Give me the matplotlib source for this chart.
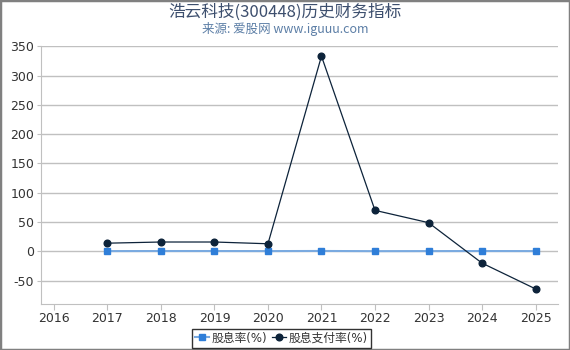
import matplotlib
matplotlib.use("Agg")
import matplotlib.pyplot as plt
from matplotlib.patches import Rectangle

plt.rcParams['font.family'] = ['DejaVu Sans', 'Noto Sans CJK SC']
plt.rcParams['axes.unicode_minus'] = False

years = [2017, 2018, 2019, 2020, 2021, 2022, 2023, 2024, 2025]
dividend_yield = [0.5, 0.6, 0.6, 0.5, 0.7, 0.4, 0.5, 0.6, 0.5]
payout_ratio = [14, 16, 16, 13, 333, 70, 49, -20, -64]
xticks = list(range(2016, 2026))
yticks = [-50, 0, 50, 100, 150, 200, 250, 300, 350]

fig = plt.figure(figsize=(5.7, 3.5), dpi=100)
ax = fig.add_axes([0.072, 0.131, 0.907, 0.737])

ax.plot(years, dividend_yield, color='#7aaae0', lw=1.5, marker='s', ms=4.8,
        mfc='#2f7ed8', mec='#2f7ed8', label='股息率(%)', zorder=3)
ax.plot(years, payout_ratio, color='#0d233a', lw=0.9, marker='o', ms=4.8,
        mfc='#0d233a', mec='#0d233a', label='股息支付率(%)', zorder=4)

ax.set_xlim(2015.76, 2025.42)
ax.set_ylim(-90, 350)
ax.set_xticks(xticks)
ax.set_xticklabels([str(x) for x in xticks])
ax.set_yticks(yticks)
ax.grid(axis='y', color='#c0c0c0', lw=1)
ax.set_axisbelow(True)
for s in ['top', 'right']:
    ax.spines[s].set_visible(False)
for s in ['left', 'bottom']:
    ax.spines[s].set_color('#c0c0c0')
ax.tick_params(axis='both', colors='#c0c0c0', labelcolor='#333333', labelsize=9, length=4, pad=2)
ax.tick_params(axis='y', length=3)

title_font = ['Noto Sans CJK SC', 'DejaVu Sans']
fig.text(0.5, 0.965, '浩云科技(300448)历史财务指标', ha='center', va='center',
         fontsize=12, color='#3d4f6e', family=title_font)
fig.text(0.5, 0.918, '来源: 爱股网 www.iguuu.com', ha='center', va='center',
         fontsize=9, color='#5c7ea6', family=title_font)

leg = fig.legend(loc='center', bbox_to_anchor=(0.494, 0.034), ncol=2, frameon=True,
                 fontsize=8.5, handlelength=1.2, handletextpad=0.2, columnspacing=0.4,
                 borderpad=0.25, borderaxespad=0, fancybox=False, edgecolor='black')
leg.get_frame().set_linewidth(1.0)
for t in leg.get_texts():
    t.set_color('#333333')

fig.patches.append(Rectangle((0, 0), 1, 1, transform=fig.transFigure, fill=False,
                             edgecolor='#808080', lw=2.5))

fig.savefig('out.png', dpi=100)
